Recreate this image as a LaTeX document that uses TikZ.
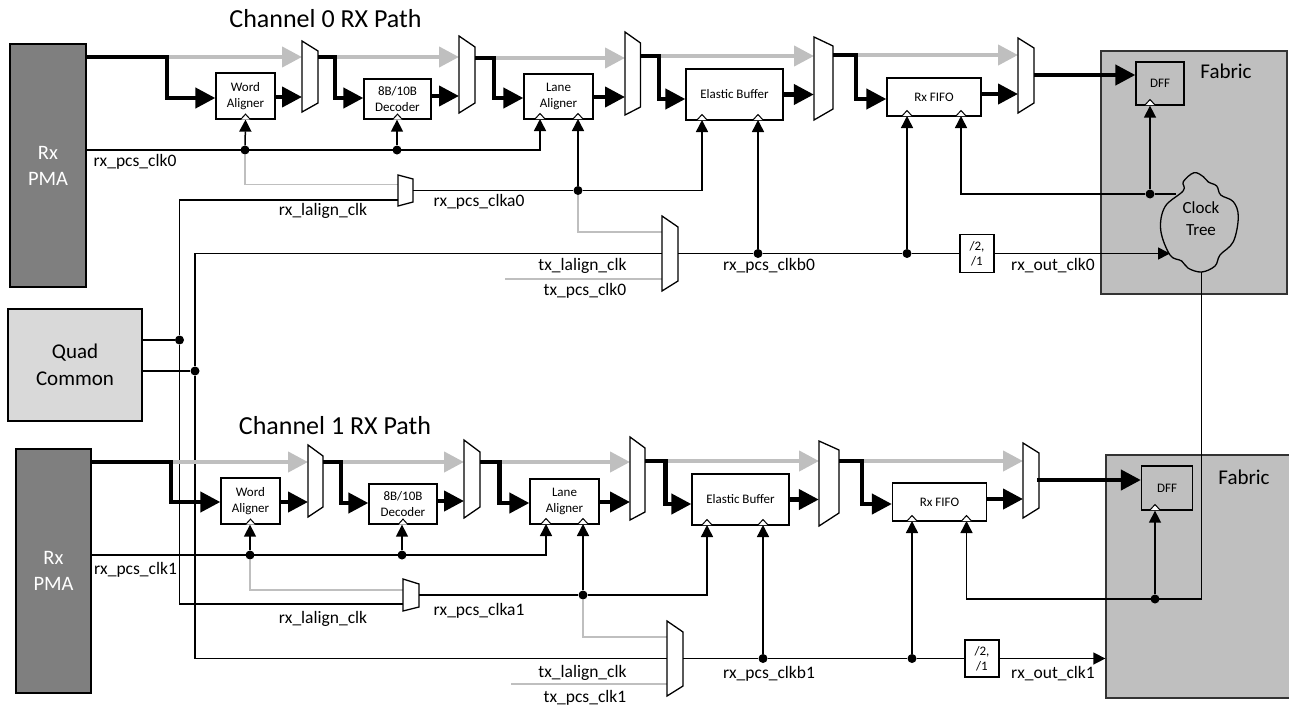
\documentclass[tikz,border=0pt]{standalone}
\usepackage{fontspec}
\setmainfont{Carlito}
\usepackage{xcolor}
\usepackage{tikz}
\usetikzlibrary{arrows.meta,fit}
\definecolor{pmagray}{HTML}{7F7F7F}
\definecolor{quadgray}{HTML}{D9D9D9}
\definecolor{fabgray}{HTML}{BFBFBF}
\newcommand{\muxbox}[7]{%
  \draw[fill=white, line width=1.3pt] (#2,#4) -- (#3,#5) -- (#3,#6) -- (#2,#7) -- cycle;
  \node[fit={(#2,#4) (#3,#7)}, inner sep=0pt] (#1) {};}
\newcommand{\clkmark}[1]{%
  \draw[fill=white, line width=1pt] (#1) ++(-5,0) -- ++(5,-5.5) -- ++(5,5.5);}

\begin{document}
\begin{tikzpicture}[x=1pt, y=-1pt,
    every node/.style={font=\fontsize{17.5}{20}\selectfont},
    pma/.style={draw=black, fill=pmagray, line width=1.3pt, text=white, align=center,
      font=\fontsize{20.5}{26}\selectfont},
    quad/.style={draw=black, fill=quadgray, line width=1.3pt, align=center,
      font=\fontsize{21}{27}\selectfont},
    fabric/.style={draw=black!80, fill=fabgray, line width=1.3pt},
    blk/.style={draw=black, fill=white, line width=1.3pt, align=center, inner sep=0pt,
      font=\fontsize{13}{16}\selectfont},
    dff/.style={blk, fill=none},
    divbox/.style={blk, font=\fontsize{13}{15}\selectfont},
    title/.style={font=\fontsize{26}{30}\selectfont},
    bigtext/.style={font=\fontsize{21}{24}\selectfont},
    dot/.style={circle, fill=black, inner sep=0pt, minimum size=9pt},
    fat/.style={line width=4.2pt},
    fatarrow/.style={fat, -{Triangle[length=20pt,width=20pt]}},
    grayarrow/.style={line width=4.2pt, draw=fabgray, -{Triangle[length=20pt,width=20pt,fill=fabgray]}},
    thin/.style={line width=1.5pt},
    thinarrow/.style={thin, -{Triangle[length=12pt,width=12pt]}},
    thingray/.style={line width=1.5pt, draw=fabgray}]
  \useasboundingbox (0,0) rectangle (1289,707);

  % Fabric regions
  \node[fabric, minimum width=186pt, minimum height=243pt] (fab0) at (1194,172.5) {};
  \node[fabric, minimum width=186pt, minimum height=243pt] (fab1) at (1199,576.5) {};
  \node[bigtext] (fab0t) at (1226,71) {Fabric};
  \node[bigtext] (fab1t) at (1244,477) {Fabric};

  % Left side blocks
  \node[pma, minimum width=76pt, minimum height=243pt] (pma0) at (48,165.5) {Rx\\PMA};
  \node[pma, minimum width=75pt, minimum height=244pt] (pma1) at (53.5,571) {Rx\\PMA};
  \node[quad, minimum width=134pt, minimum height=112pt] (quad) at (75,365) {Quad\\Common};
  \node[title] (title0) at (325.5,19) {Channel 0 RX Path};
  \node[title] (title1) at (335,426) {Channel 1 RX Path};

  % Quad common clock lines
  \node[dot] (qd0) at (179.5,340) {};
  \node[dot] (qd1) at (195,371) {};
  \coordinate (lm0b) at (398,200);
  \coordinate (lm1b) at (403,604);
  \coordinate (bm0b) at (662,253.5);
  \coordinate (bm1b) at (667,658.5);
  \draw[thin] (quad.east |- qd0) -- (qd0);
  \draw[thin] (quad.east |- qd1) -- (qd1);
  \draw[thin] (lm0b) -| (qd0) |- (lm1b);
  \draw[thin] (bm0b) -| (qd1) |- (bm1b);

  % Channel 0 blocks
  \node[blk, minimum width=59pt, minimum height=46pt] (wa0) at (245.5,96) {Word\\Aligner};
  \node[blk, minimum width=67pt, minimum height=40pt] (dec0) at (397.5,99) {8B/10B\\Decoder};
  \node[blk, minimum width=69pt, minimum height=45pt] (la0) at (558.5,96.5) {Lane\\Aligner};
  \node[blk, minimum width=97pt, minimum height=51pt] (eb0) at (734.5,94.5) {Elastic Buffer};
  \node[blk, minimum width=94pt, minimum height=38pt] (ff0) at (934,97) {Rx FIFO};
  \node[dff, minimum width=48pt, minimum height=43pt] (dff0) at (1160,83.5) {DFF};
  \node[divbox, minimum width=34pt, minimum height=38pt] (div0) at (977,253.5) {/2,\\/1};

  % Channel 0 data path
  \coordinate (pma0o) at (86,57);
  \coordinate (c0a) at (167,57);
  \coordinate (c0b) at (335,57);
  \coordinate (c0c) at (494,58);
  \coordinate (c0d) at (659,56);
  \coordinate (c0e) at (856,55);
  \coordinate (m0o) at (1034,75);
  \draw[grayarrow] (c0a) -- (302,57);
  \draw[grayarrow] (c0b) -- (459,57);
  \draw[grayarrow] (c0c) -- (625,58);
  \draw[grayarrow] (c0d) -- (814,56);
  \draw[grayarrow] (c0e) -- (1018,55);
  \muxbox{m01}{302}{318}{41}{51}{103}{112}
  \muxbox{m02}{459}{475}{36}{47}{103}{113}
  \muxbox{m03}{625}{640.5}{32}{43}{107}{115}
  \muxbox{m04}{814}{833}{37}{46}{109}{120}
  \muxbox{m05}{1018}{1034}{38}{48}{103}{113}
  \draw[fatarrow] (pma0o) -- (c0a) |- ([yshift=-2pt]wa0.west);
  \draw[fatarrow] (m01.east |- c0b) -- (c0b) |- ([yshift=1pt]dec0.west);
  \draw[fatarrow] (m02.east |- c0c) -- (c0c) |- ([yshift=-1.5pt]la0.west);
  \draw[fatarrow] (m03.east |- c0d) -- (c0d) |- ([yshift=-4.5pt]eb0.west);
  \draw[fatarrow] (m04.east |- c0e) -- (c0e) |- ([yshift=-2pt]ff0.west);
  \draw[fatarrow] (wa0.east) ++(0,1) -- (302,97);
  \draw[fatarrow] (dec0.east) ++(0,-3) -- (459,96);
  \draw[fatarrow] (la0.east) ++(0,.5) -- (625,97);
  \draw[fatarrow] (eb0.east) -- (eb0.east -| m04.west);
  \draw[fatarrow] (ff0.east) ++(0,-3) -- (1018,94);
  \draw[fatarrow] (m0o) -- (m0o -| dff0.west);

  % Channel 0 clocks
  \node[dot] (d0a) at (245,150) {};
  \node[dot] (d0b) at (397,150) {};
  \node[dot] (d0c) at (578,190.5) {};
  \node[dot] (d0d) at (758,253.5) {};
  \node[dot] (d0e) at (907,253.5) {};
  \node[dot] (d0f) at (1150,194) {};
  \coordinate (pma0c) at (86,150);
  \coordinate (la0c1) at (540,119);
  \coordinate (la0c2) at (578,119);
  \coordinate (eb0c1) at (702,120);
  \coordinate (eb0c2) at (758,120);
  \coordinate (ff0c1) at (907,116);
  \coordinate (ff0c2) at (961,116);
  \coordinate (lm0g) at (398,184.5);
  \coordinate (bm0g) at (662,232);
  \coordinate (tx0s) at (505,279);
  \coordinate (bm0h) at (662,279);
  \coordinate (t0in) at (1170,253.5);
  \coordinate (t0out) at (1176,194);
  \coordinate (t0b) at (1201.7,272);
  \draw[thingray] (d0a) |- (lm0g);
  \draw[thingray] (d0c) |- (bm0g);
  \draw[thingray] (tx0s) -- (bm0h);
  \draw[thinarrow] (pma0c) -| (la0c1);
  \draw[thinarrow] (d0a) -- (wa0.south);
  \draw[thinarrow] (d0b) -- (d0b |- dec0.south);
  \muxbox{lm0}{398}{413}{175}{179}{202}{206}
  \muxbox{bm0}{662}{678}{216}{227}{281}{291}
  \draw[thin] (lm0.east) -- (d0c);
  \draw[thinarrow] (d0c) -- (la0c2);
  \draw[thinarrow] (d0c) -| (eb0c1);
  \draw[thin] (bm0.east) -- (d0d);
  \draw[thin] (d0d) -- (d0e);
  \draw[thin] (d0e) -- (div0.west);
  \draw[thinarrow] (d0d) -- (eb0c2);
  \draw[thinarrow] (d0e) -- (ff0c1);
  \draw[thin] (t0out) -- (d0f);
  \draw[thinarrow] (d0f) -| (ff0c2);
  \draw[thinarrow] (d0f) -- (d0f |- dff0.south);

  % Clock tree outline
  \draw[fill=fabgray, line width=1.3pt] plot[smooth cycle, tension=0.6] coordinates {
    (1194,172.7) (1203.3,176.7) (1208.3,182) (1216.7,186) (1220.7,195) (1233.3,201.7)
    (1238.3,216.7) (1233.3,241.7) (1220,255) (1215,266) (1201.7,272) (1188.3,268.3)
    (1181.7,261) (1170,255) (1160.7,230) (1165,206.7) (1183.3,190.7) (1183.3,181.7)};
  \node[align=center, font=\fontsize{17}{22}\selectfont] (tree0) at (1201,218.5) {Clock\\Tree};
  \draw[thinarrow] (div0.east) -- (t0in);

  % Channel 0 clock marks
  \clkmark{wa0.south}
  \clkmark{dec0.south}
  \clkmark{la0c1}
  \clkmark{la0c2}
  \clkmark{eb0c1}
  \clkmark{eb0c2}
  \clkmark{ff0c1}
  \clkmark{ff0c2}
  \coordinate (dff0c) at (1150,105);
  \clkmark{dff0c}

  % Channel 0 labels
  \node (l0a) at (135,162) {rx\_pcs\_clk0};
  \node (l0b) at (323,211) {rx\_lalign\_clk};
  \node (l0c) at (479,202) {rx\_pcs\_clka0};
  \node (l0d) at (582.5,266) {tx\_lalign\_clk};
  \node (l0e) at (585,291) {tx\_pcs\_clk0};
  \node (l0f) at (769,266) {rx\_pcs\_clkb0};
  \node (l0g) at (1053,266) {rx\_out\_clk0};

  % Channel 1 blocks
  \node[blk, minimum width=59pt, minimum height=46pt] (wa1) at (250.5,501) {Word\\Aligner};
  \node[blk, minimum width=68pt, minimum height=40pt] (dec1) at (403,504) {8B/10B\\Decoder};
  \node[blk, minimum width=69pt, minimum height=45pt] (la1) at (564.5,501.5) {Lane\\Aligner};
  \node[blk, minimum width=97pt, minimum height=51pt] (eb1) at (740.5,499.5) {Elastic Buffer};
  \node[blk, minimum width=94pt, minimum height=38pt] (ff1) at (939.5,502) {Rx FIFO};
  \node[dff, minimum width=51pt, minimum height=44pt] (dff1) at (1167,488) {DFF};
  \node[divbox, minimum width=34pt, minimum height=37pt] (div1) at (982,658.5) {/2,\\/1};

  % Channel 1 data path
  \coordinate (pma1o) at (91,462);
  \coordinate (c1a) at (171,462);
  \coordinate (c1b) at (341,462);
  \coordinate (c1c) at (499.5,462);
  \coordinate (c1d) at (665.5,461);
  \coordinate (c1e) at (862,461);
  \coordinate (m1o) at (1037,480);
  \draw[grayarrow] (c1a) -- (308,462);
  \draw[grayarrow] (c1b) -- (464,462);
  \draw[grayarrow] (c1c) -- (630,462);
  \draw[grayarrow] (c1d) -- (819,461);
  \draw[grayarrow] (c1e) -- (1023,461);
  \muxbox{m11}{308}{323}{445}{456}{507}{517}
  \muxbox{m12}{464}{480}{440}{452}{507}{518}
  \muxbox{m13}{630}{645}{437}{448}{512}{520}
  \muxbox{m14}{819}{839}{441}{450}{513}{526}
  \muxbox{m15}{1023}{1039}{443}{453}{508}{518}
  \draw[fatarrow] (pma1o) -- (c1a) |- ([yshift=-1pt]wa1.west);
  \draw[fatarrow] (m11.east |- c1b) -- (c1b) |- ([yshift=1pt]dec1.west);
  \draw[fatarrow] (m12.east |- c1c) -- (c1c) |- ([yshift=-1.5pt]la1.west);
  \draw[fatarrow] (m13.east |- c1d) -- (c1d) |- ([yshift=-4.5pt]eb1.west);
  \draw[fatarrow] (m14.east |- c1e) -- (c1e) |- ([yshift=-2pt]ff1.west);
  \draw[fatarrow] (wa1.east) ++(0,1) -- (308,502);
  \draw[fatarrow] (dec1.east) ++(0,-3) -- (464,501);
  \draw[fatarrow] (la1.east) ++(0,.5) -- (630,502);
  \draw[fatarrow] (eb1.east) -- (eb1.east -| m14.west);
  \draw[fatarrow] (ff1.east) ++(0,-3) -- (1023,499);
  \draw[fatarrow] (m1o) -- (m1o -| dff1.west);

  % Channel 1 clocks
  \node[dot] (d1a) at (250,555) {};
  \node[dot] (d1b) at (402,555) {};
  \node[dot] (d1c) at (583,595) {};
  \node[dot] (d1d) at (763,658.5) {};
  \node[dot] (d1e) at (912,658.5) {};
  \node[dot] (d1f) at (1155,599) {};
  \coordinate (pma1c) at (91,555);
  \coordinate (la1c1) at (546,524);
  \coordinate (la1c2) at (583,524);
  \coordinate (eb1c1) at (707,525);
  \coordinate (eb1c2) at (763,525);
  \coordinate (ff1c1) at (912,521);
  \coordinate (ff1c2) at (966.5,521);
  \coordinate (lm1g) at (403,590);
  \coordinate (bm1g) at (667,637);
  \coordinate (tx1s) at (511,684);
  \coordinate (bm1h) at (667,684);
  \coordinate (t1c) at (1201.7,599);
  \draw[thingray] (d1a) |- (lm1g);
  \draw[thingray] (d1c) |- (bm1g);
  \draw[thingray] (tx1s) -- (bm1h);
  \draw[thinarrow] (pma1c) -| (la1c1);
  \draw[thinarrow] (d1a) -- (d1a |- wa1.south);
  \draw[thinarrow] (d1b) -- (d1b |- dec1.south);
  \muxbox{lm1}{403}{419}{579}{584}{607}{611}
  \muxbox{bm1}{667}{683}{621}{632}{686}{696}
  \draw[thin] (lm1.east) -- (d1c);
  \draw[thinarrow] (d1c) -- (la1c2);
  \draw[thinarrow] (d1c) -| (eb1c1);
  \draw[thin] (bm1.east) -- (d1d);
  \draw[thin] (d1d) -- (d1e);
  \draw[thin] (d1e) -- (div1.west);
  \draw[thinarrow] (d1d) -- (eb1c2);
  \draw[thinarrow] (d1e) -- (ff1c1);
  \draw[thinarrow] (div1.east) -- (div1.east -| fab1.west);
  \draw[thinarrow] (t0b) -- (t1c) -| (ff1c2);
  \draw[thinarrow] (d1f) -- (d1f |- dff1.south);

  % Channel 1 clock marks
  \clkmark{wa1.south}
  \clkmark{dec1.south}
  \clkmark{la1c1}
  \clkmark{la1c2}
  \clkmark{eb1c1}
  \clkmark{eb1c2}
  \clkmark{ff1c1}
  \clkmark{ff1c2}
  \coordinate (dff1c) at (1155,510);
  \clkmark{dff1c}

  % Channel 1 labels
  \node (l1a) at (135.5,570) {rx\_pcs\_clk1};
  \node (l1b) at (323,619) {rx\_lalign\_clk};
  \node (l1c) at (479,611) {rx\_pcs\_clka1};
  \node (l1d) at (582.5,673) {tx\_lalign\_clk};
  \node (l1e) at (585,698) {tx\_pcs\_clk1};
  \node (l1f) at (769,674) {rx\_pcs\_clkb1};
  \node (l1g) at (1053,674) {rx\_out\_clk1};
\end{tikzpicture}
\end{document}
